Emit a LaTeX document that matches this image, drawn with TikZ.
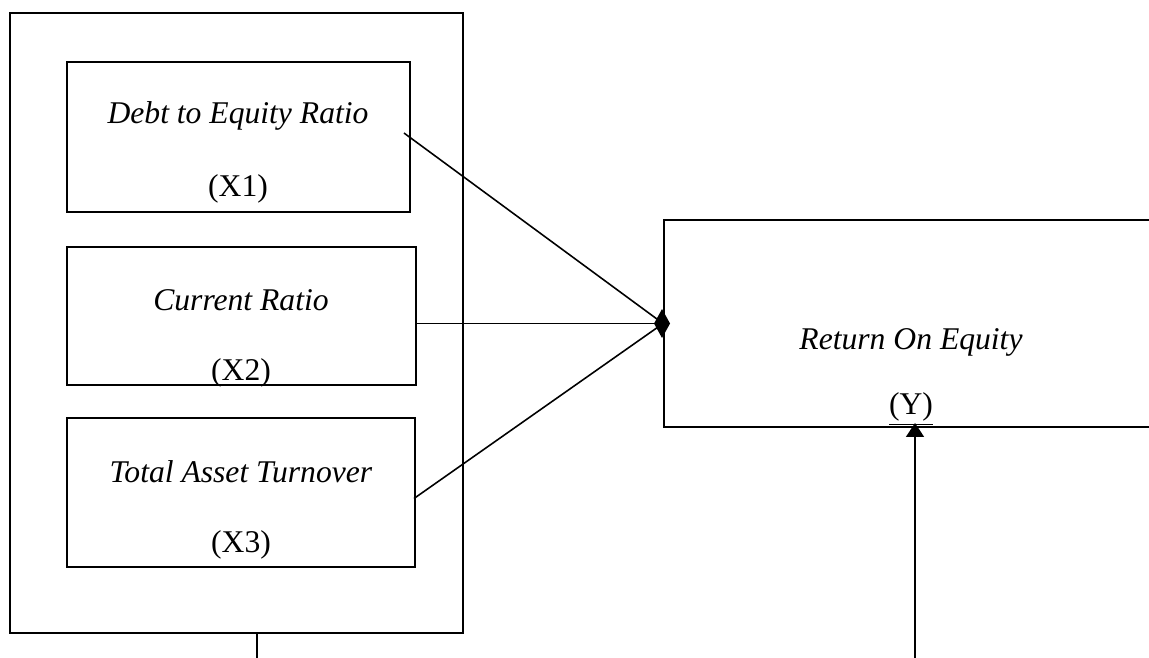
\documentclass[tikz,border=0pt]{standalone}
\usepackage{fontspec}
\setmainfont{Liberation Serif}
\usetikzlibrary{arrows.meta,positioning,fit}

\begin{document}
\begin{tikzpicture}[x=0.02cm,y=-0.02cm,
  box/.style={draw,line width=1.1pt,inner sep=0pt},
  lbl/.style={font=\fontsize{18}{21}\selectfont},
  link/.style={line width=0.9pt}]
\useasboundingbox (0,0) rectangle (1149,657);
% frame with the three ratios
\node[box,line width=0.9pt,fit={(10,13) (463,633)}] (frame) {};
\node[box,fit={(67,62) (410,212)}] (x1) {};
\node[box,fit={(67,247) (416,385)}] (x2) {};
\node[box,fit={(67,418) (415,567)}] (x3) {};
\node[lbl] (t1) at (238,116) {\textit{Debt to Equity Ratio}};
\node[lbl] (v1) at (238,189) {(X1)};
\node[lbl] (t2) at (241,300) {\textit{Current Ratio}};
\node[lbl] (v2) at (241,373) {(X2)};
\node[lbl] (t3) at (241,472) {\textit{Total Asset Turnover}};
\node[lbl] (v3) at (241,545) {(X3)};
% return on equity
\node[box,fit={(664,220) (1175,427)}] (roe) {};
\node[lbl] (ty) at (911,342) {\textit{Return On Equity}};
\node[lbl] (vy) at (911,409) {\underline{(Y)}};
\coordinate (lfoot) at (257,662);
\coordinate (rfoot) at (915,662);
\draw[link] ([xshift=-0.14cm,yshift=0.08cm]x1.east) -- (roe.west);
\draw[link,-{Diamond[length=0.32cm,width=0.58cm]},shorten >=-0.14cm] (roe.west -| x2.east) -- (roe.west);
\draw[link] ([xshift=-0.04cm,yshift=-0.12cm]x3.east) -- (roe.west);
\draw[link,-{Triangle[length=0.28cm,width=0.36cm]},shorten >=-0.1cm] (rfoot) -- (rfoot |- roe.south);
\draw[link] (lfoot |- frame.south) -- (lfoot);
\end{tikzpicture}
\end{document}
